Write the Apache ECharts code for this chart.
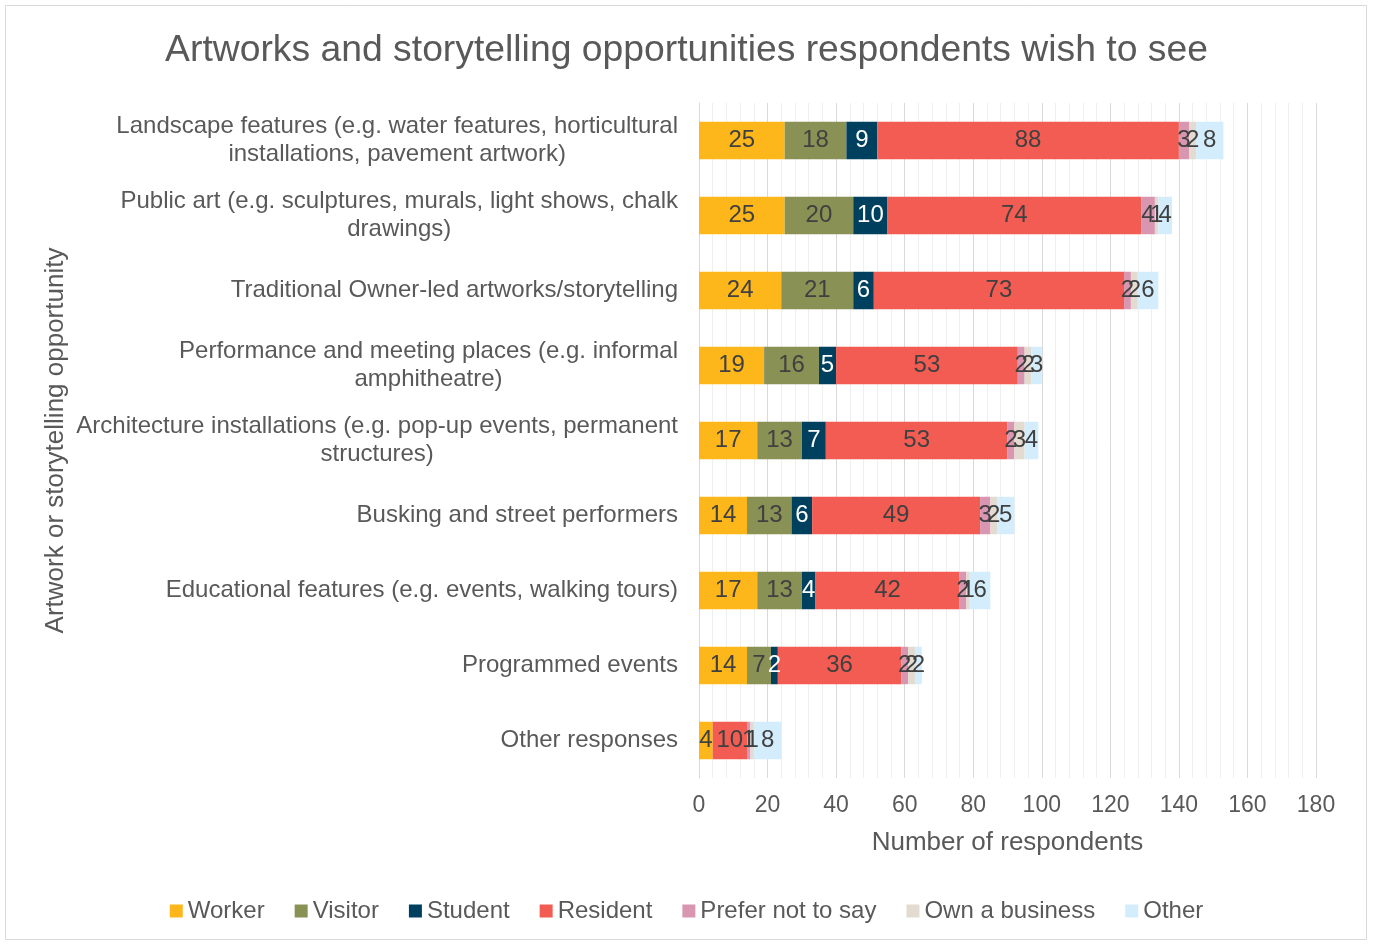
<!DOCTYPE html>
<html>
<head>
<meta charset="utf-8">
<title>Artworks and storytelling opportunities</title>
<script src="https://cdn.jsdelivr.net/npm/echarts@6/dist/echarts.min.js"></script>
<style>
  html, body { margin: 0; padding: 0; background: #ffffff; }
  #chart { width: 1373px; height: 944px; }
</style>
</head>
<body>
<div id="chart"></div>
<script>
// Categories (line breaks where the label wraps)
const categories = [
  'Landscape features (e.g. water features, horticultural\ninstallations, pavement artwork)',
  'Public art (e.g. sculptures, murals, light shows, chalk\ndrawings)',
  'Traditional Owner-led artworks/storytelling',
  'Performance and meeting places (e.g. informal\namphitheatre)',
  'Architecture installations (e.g. pop-up events, permanent\nstructures)',
  'Busking and street performers',
  'Educational features (e.g. events, walking tours)',
  'Programmed events',
  'Other responses'
];

// Respondent counts per group, in category order
const worker       = [25, 25, 24, 19, 17, 14, 17, 14, 4];
const visitor      = [18, 20, 21, 16, 13, 13, 13, 7, 0];
const student      = [9, 10, 6, 5, 7, 6, 4, 2, 0];
const resident     = [88, 74, 73, 53, 53, 49, 42, 36, 10];
const preferNot    = [3, 4, 2, 2, 2, 3, 2, 2, 1];
const ownBusiness  = [2, 1, 2, 2, 3, 2, 1, 2, 1];
const other        = [8, 4, 6, 3, 4, 5, 6, 2, 8];

const seriesNames = ['Worker', 'Visitor', 'Student', 'Resident', 'Prefer not to say', 'Own a business', 'Other'];
const seriesData = [worker, visitor, student, resident, preferNot, ownBusiness, other];
const seriesColors = ['#FDB71A', '#8A9155', '#00405F', '#F25C52', '#D896B0', '#E3DAD0', '#D4EDFC'];

const xTicks = { min: 0, max: 180, interval: 20 };

const FONT = '"Liberation Sans", Arial, sans-serif';
const TEXT = '#595959';

const chart = echarts.init(document.getElementById('chart'), null, { renderer: 'canvas' });

const series = seriesNames.map((name, i) => ({
  name: name,
  type: 'bar',
  stack: 'total',
  barWidth: '50%',
  data: seriesData[i],
  itemStyle: { color: seriesColors[i] },
  label: {
    show: true,
    position: 'inside',
    fontFamily: FONT,
    fontSize: 24,
    color: name === 'Student' ? '#ffffff' : '#404040',
    formatter: p => (p.value ? String(p.value) : '')
  },
  emphasis: { disabled: true },
  animation: false
}));

chart.setOption({
  animation: false,
  textStyle: { fontFamily: FONT },
  title: {
    text: 'Artworks and storytelling opportunities respondents wish to see',
    left: 'center',
    top: 27,
    textStyle: { fontFamily: FONT, fontSize: 37.3, fontWeight: 'normal', color: TEXT }
  },
  legend: {
    bottom: 16,
    left: 'center',
    itemWidth: 13,
    itemHeight: 13,
    itemGap: 30,
    icon: 'rect',
    textStyle: { fontFamily: FONT, fontSize: 24, color: TEXT, padding: [0, 0, 0, 0] },
    data: seriesNames
  },
  grid: { left: 699, right: 57, top: 103, bottom: 166, containLabel: false },
  xAxis: {
    type: 'value',
    min: xTicks.min,
    max: xTicks.max,
    interval: xTicks.interval,
    name: 'Number of respondents',
    nameLocation: 'middle',
    nameGap: 52,
    nameTextStyle: { fontFamily: FONT, fontSize: 26, color: TEXT },
    axisLine: { show: false },
    axisTick: { show: false },
    axisLabel: { fontFamily: FONT, fontSize: 23, color: TEXT, margin: 16 },
    splitLine: { show: true, lineStyle: { color: '#d9d9d9', width: 1 } },
    minorTick: { show: false, splitNumber: 5 },
    minorSplitLine: { show: true, lineStyle: { color: '#efefef', width: 1 } }
  },
  yAxis: {
    type: 'category',
    inverse: true,
    data: categories,
    name: 'Artwork or storytelling opportunity',
    nameLocation: 'middle',
    nameGap: 630,
    nameRotate: 90,
    nameTextStyle: { fontFamily: FONT, fontSize: 26, color: TEXT },
    axisLine: { show: true, lineStyle: { color: '#d9d9d9' } },
    axisTick: { show: false },
    axisLabel: {
      margin: 21,
      align: 'right',
      fontFamily: FONT,
      fontSize: 24,
      color: TEXT,
      lineHeight: 28,
      formatter: v => v.split('\n').map(l => '{c|' + l + '}').join('\n'),
      rich: { c: { align: 'center', fontFamily: FONT, fontSize: 24, color: TEXT, lineHeight: 28 } }
    }
  },
  graphic: [{
    type: 'rect',
    shape: { x: 5.5, y: 5.5, width: 1361, height: 934 },
    style: { fill: 'none', stroke: '#d9d9d9', lineWidth: 1 },
    silent: true,
    z: -1
  }],
  series: series
});
</script>
</body>
</html>
